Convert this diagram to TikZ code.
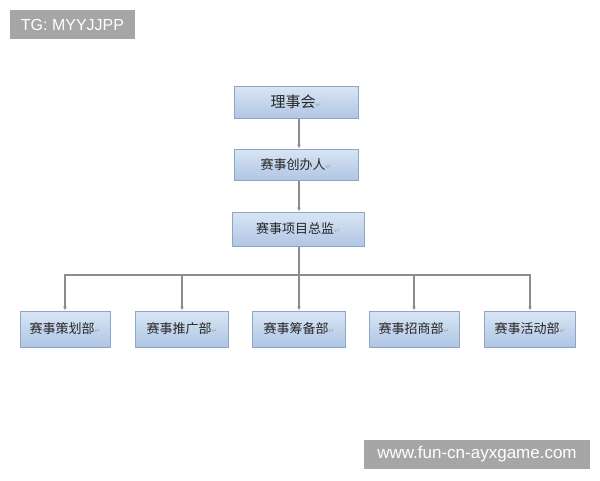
\documentclass[tikz,border=0pt]{standalone}
\usepackage{fontspec}
\setmainfont{Liberation Sans}
\newfontfamily\cjk{Noto Sans CJK SC}
\newfontfamily\dvs{DejaVu Sans}
\usetikzlibrary{arrows.meta}
\definecolor{boxborder}{HTML}{8CA6C8}
\definecolor{boxtop}{HTML}{D9E5F4}
\definecolor{boxbot}{HTML}{AFC6E4}
\definecolor{linegray}{HTML}{8C8C8C}
\definecolor{taggray}{HTML}{A6A6A6}
\newcommand{\pmark}{{\dvs\color{gray!70}\fontsize{7}{8}\selectfont ↵}}
\begin{document}
\begin{tikzpicture}[x=1pt,y=-1pt,
  box/.style={draw=boxborder, line width=1pt, top color=boxtop, bottom color=boxbot,
    inner sep=0pt, text=black!85, font=\cjk\fontsize{13}{15}\selectfont},
  conn/.style={draw=linegray, line width=1.4pt},
  arr/.style={conn, -{Latex[length=4pt,width=4pt]}},
  tag/.style={fill=taggray, text=white, inner sep=0pt}]
\useasboundingbox[fill=white] (0,0) rectangle (600,480);
% tags
\node[tag, minimum width=125pt, minimum height=29pt, font=\fontsize{16}{18}\selectfont] (tg) at (72.5,24.5) {TG: MYYJJPP};
\node[tag, minimum width=226pt, minimum height=29pt, font=\fontsize{17}{19}\selectfont] (wm) at (477,454.5) {www.fun-cn-ayxgame.com};
% top chain
\node[box, minimum width=124pt, minimum height=32pt, font=\cjk\fontsize{15}{17}\selectfont] (b1) at (296,102) {理事会\pmark};
\node[box, minimum width=124pt, minimum height=31pt] (b2) at (296,164.5) {赛事创办人\pmark};
\node[box, minimum width=132pt, minimum height=34pt] (b3) at (298,229) {赛事项目总监\pmark};
% bottom row
\node[box, minimum width=90pt, minimum height=36pt] (d1) at (65,329) {赛事策划部\pmark};
\node[box, minimum width=93pt, minimum height=36pt] (d2) at (182,329) {赛事推广部\pmark};
\node[box, minimum width=93pt, minimum height=36pt] (d3) at (299,329) {赛事筹备部\pmark};
\node[box, minimum width=90pt, minimum height=36pt] (d4) at (414,329) {赛事招商部\pmark};
\node[box, minimum width=91pt, minimum height=36pt] (d5) at (530,329) {赛事活动部\pmark};
% connectors
\coordinate (bus) at (299,275);
\draw[arr] (b1.south -| bus) -- (b2.north -| bus);
\draw[arr] (b2.south -| bus) -- (b3.north -| bus);
\draw[conn] (b3.south -| bus) -- (bus);
\foreach \d in {d1,d2,d3,d4,d5} {
  \draw[arr] (bus) -| (\d.north);
}
\end{tikzpicture}
\end{document}
